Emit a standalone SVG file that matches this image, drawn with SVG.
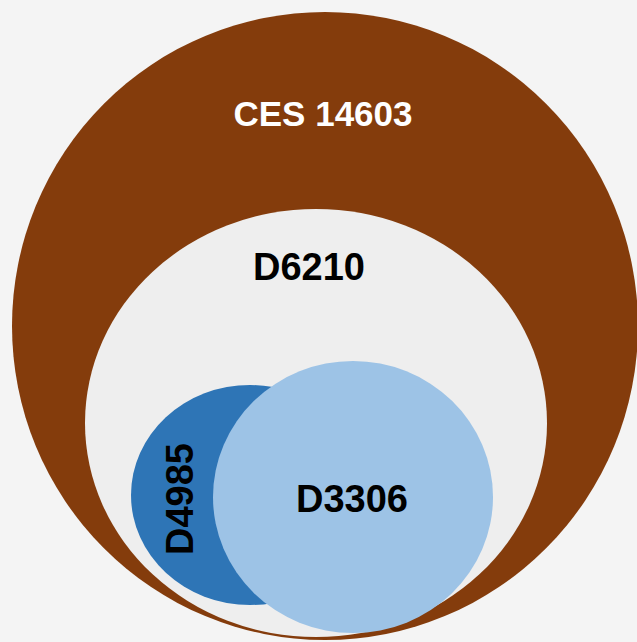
<svg xmlns="http://www.w3.org/2000/svg" width="637" height="642" viewBox="0 0 637 642">
<style>
.lbl{font-family:"Liberation Sans",Arial,sans-serif;font-weight:bold;text-anchor:middle}
</style>
<rect width="637" height="642" fill="#F4F4F4"/>
<g id="ces14603">
<ellipse cx="325" cy="326" rx="313" ry="314" fill="#843C0C"/>
<text class="lbl" x="323" y="126" font-size="35" fill="#FFFFFF">CES 14603</text>
</g>
<g id="d6210">
<ellipse cx="316" cy="423" rx="231" ry="214" fill="#EEEEEE"/>
<text class="lbl" x="309" y="280" font-size="38" fill="#000000">D6210</text>
</g>
<g id="d4985">
<ellipse cx="250" cy="495" rx="119" ry="110" fill="#2E75B6"/>
<text class="lbl" transform="translate(193,499) rotate(-90)" x="0" y="0" font-size="38" fill="#000000">D4985</text>
</g>
<g id="d3306">
<ellipse cx="353" cy="497" rx="140" ry="136" fill="#9DC3E6"/>
<text class="lbl" x="352" y="512" font-size="38" fill="#000000">D3306</text>
</g>
</svg>
